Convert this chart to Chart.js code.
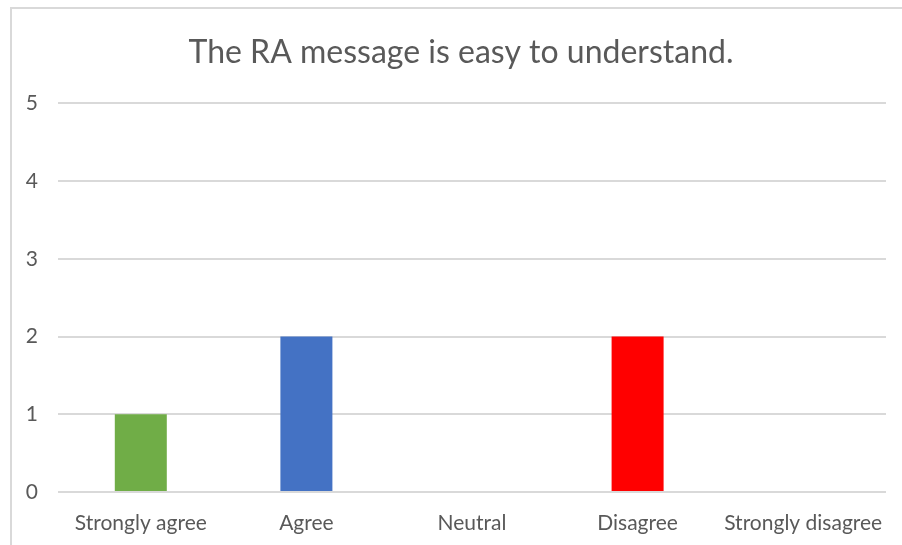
<!DOCTYPE html>
<html>
<head>
<meta charset="utf-8">
<script src="https://cdn.jsdelivr.net/npm/chart.js@4"></script>
<style>
    html, body { margin: 0; padding: 0; background: #ffffff; }
    #frame {
        position: absolute;
        left: 10px;
        top: 7px;
        width: 900px;
        height: 545px;
        border-left: 2px solid #d9d9d9;
        border-top: 2px solid #d9d9d9;
    }
    #chart { position: absolute; left: 0; top: 0; }
</style>
</head>
<body>
<div id="frame"></div>
<canvas id="chart" width="902" height="545"></canvas>
<script>
// Survey answers
const categories = ['Strongly agree', 'Agree', 'Neutral', 'Disagree', 'Strongly disagree'];
const counts = [1, 2, 0, 2, 0];
const barColors = ['#70AD47', '#4472C4', '#A5A5A5', '#FF0000', '#FFC000'];
const yTicks = [0, 1, 2, 3, 4, 5];

const textColor = '#595959';
const gridColor = '#d9d9d9';

// Excel centres the title over the frame, not the canvas: nudge the title box
const titleShift = {
    id: 'titleShift',
    afterLayout(chart) {
        if (chart.titleBlock) chart.titleBlock.left = 36;
    }
};

document.addEventListener('DOMContentLoaded', function() {
    const ctx = document.getElementById('chart');

    new Chart(ctx, {
        type: 'bar',
        data: {
            labels: categories,
            datasets: [{
                data: counts,
                backgroundColor: barColors,
                borderWidth: 0,
                barPercentage: 0.314,
                categoryPercentage: 1
            }]
        },
        options: {
            responsive: false,
            animation: false,
            layout: {
                padding: { left: 0, right: 16, top: 0, bottom: 0 }
            },
            plugins: {
                legend: { display: false },
                tooltip: { enabled: false },
                title: {
                    display: true,
                    text: 'The RA message is easy to understand.',
                    color: textColor,
                    font: { family: 'Lato', size: 32, weight: 'normal' },
                    padding: { top: 33, bottom: 32 }
                }
            },
            scales: {
                x: {
                    grid: { display: false },
                    border: { display: false },
                    ticks: {
                        color: textColor,
                        font: { family: 'Lato', size: 21 },
                        padding: 11,
                        maxRotation: 0
                    },
                    afterFit: function(scale) {
                        scale.height = 53;
                    }
                },
                y: {
                    min: 0,
                    max: 5,
                    afterBuildTicks: function(scale) {
                        scale.ticks = yTicks.map(v => ({ value: v }));
                    },
                    grid: {
                        color: gridColor,
                        lineWidth: 2,
                        drawTicks: false
                    },
                    border: { display: false },
                    ticks: {
                        color: textColor,
                        font: { family: 'Lato', size: 21 },
                        padding: 20
                    },
                    afterFit: function(scale) {
                        scale.width = 58;
                    }
                }
            }
        },
        plugins: [titleShift]
    });
});
</script>
</body>
</html>
